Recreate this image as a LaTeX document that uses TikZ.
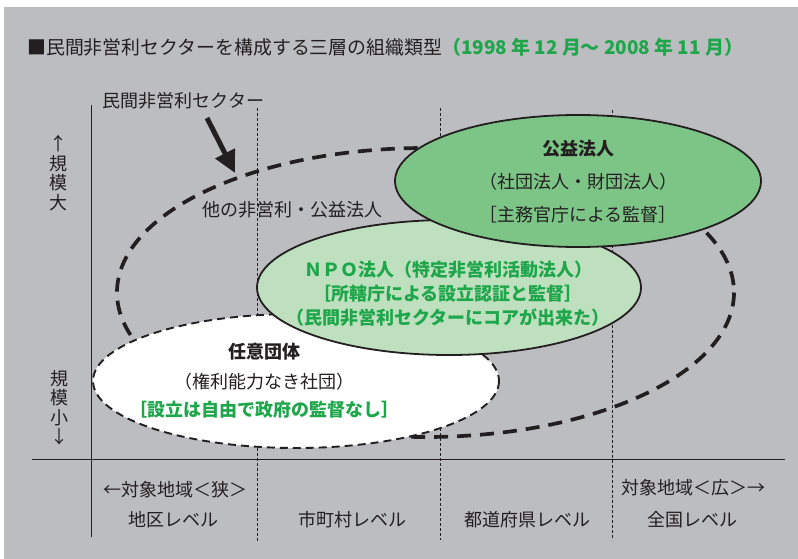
\documentclass[tikz,border=0pt]{standalone}
\usepackage{fontspec}
\setmainfont{Noto Sans CJK JP}
\usetikzlibrary{arrows.meta}
\definecolor{bg}{HTML}{BCBDC0}
\definecolor{txt}{HTML}{231F20}
\definecolor{grn}{HTML}{1DA64A}
\definecolor{koueki}{HTML}{7DC587}
\definecolor{npofill}{HTML}{BFE0BF}
\tikzset{
  lbl/.style={inner sep=0pt, text=txt, font=\fontsize{18}{20}\selectfont},
  glbl/.style={inner sep=0pt, text=grn, font=\fontsize{18}{20}\selectfont\bfseries},
  blbl/.style={inner sep=0pt, text=txt, font=\fontsize{18}{20}\selectfont\bfseries},
  guide/.style={draw=txt, line width=0.7pt, dash pattern=on 3pt off 2pt},
  axis/.style={draw=txt, line width=0.9pt},
  sector/.style={draw=txt, line width=3.7pt, dash pattern=on 14pt off 9pt},
  solidell/.style={draw=txt, line width=1.8pt},
  freeell/.style={draw=txt, fill=white, line width=1.9pt, dash pattern=on 8pt off 5pt},
  vlab/.style={inner sep=0pt, text=txt, align=center, font=\fontsize{18}{19.5}\selectfont},
}
\begin{document}
\begin{tikzpicture}[x=1pt,y=-1pt]
\useasboundingbox (0,0) rectangle (798,559);
\fill[white] (0,0) rectangle (798,559);
\fill[bg] (4,7) rectangle (798,559);
% title
\node[lbl, anchor=west, font=\fontsize{18.9}{20}\selectfont] (title) at (27,47) {■民間非営利セクターを構成する三層の組織類型\textcolor{grn}{\bfseries （1998 年 12 月～ 2008 年 11 月）}};
% guide lines
\coordinate (g1t) at (257,108); \coordinate (g1b) at (257,542);
\coordinate (g2t) at (440,108); \coordinate (g2b) at (440,540);
\coordinate (g3t) at (612,110); \coordinate (g3b) at (612,540);
\draw[guide] (g1t) -- (g1b);
\draw[guide] (g2t) -- (g2b);
\draw[guide] (g3t) -- (g3b);
% axes
\coordinate (yt) at (91,105); \coordinate (yb) at (91,537);
\coordinate (xl) at (32,459); \coordinate (xr) at (785,459);
\draw[axis] (yt) -- (yb);
\draw[axis] (xl) -- (xr);
% sector ellipse
\draw[sector] (425.5,292.5) ellipse [x radius=308.5, y radius=144.5];
% voluntary groups
\path[freeell] (296,381) ellipse [x radius=203, y radius=67];
% NPO
\path[solidell, fill=npofill] (449,287.5) ellipse [x radius=192, y radius=67.5];
% public interest corporations
\path[solidell, fill=koueki] (578,181) ellipse [x radius=183, y radius=66];
% labels
\node[lbl] (sectorlbl) at (183.5,101) {民間非営利セクター};
\coordinate (arrS) at (207,118);
\coordinate (arrE) at (235,173);
\draw[line width=5pt, draw=txt, -{Triangle[width=21pt,length=22pt]}] (arrS) -- (arrE);
\node[lbl] (other) at (292,210) {他の非営利・公益法人};
\node[blbl] (k1) at (578,149) {公益法人};
\node[lbl] (k2) at (578,182) {（社団法人・財団法人）};
\node[lbl] (k3) at (578,215) {［主務官庁による監督］};
\node[glbl] (n1) at (448,270) {ＮＰＯ法人（特定非営利活動法人）};
\node[glbl] (n2) at (448,294) {［所轄庁による設立認証と監督］};
\node[glbl] (n3) at (448,318) {（民間非営利セクターにコアが出来た）};
\node[blbl] (v1) at (264,352) {任意団体};
\node[lbl] (v2) at (264,382) {（権利能力なき社団）};
\node[glbl] (v3) at (264,410) {［設立は自由で政府の監督なし］};
% vertical axis labels
\node[vlab] (big) at (58,173) {↑\\規\\模\\大};
\node[vlab] (small) at (59,408) {規\\模\\小\\↓};
% bottom labels
\node[lbl] (narrow) at (175,490) {←対象地域＜狭＞};
\node[lbl] (wide) at (693,488) {対象地域＜広＞→};
\node[lbl] (l1) at (173,520) {地区レベル};
\node[lbl] (l2) at (352,520) {市町村レベル};
\node[lbl] (l3) at (527,520) {都道府県レベル};
\node[lbl] (l4) at (692,520) {全国レベル};
\end{tikzpicture}
\end{document}
